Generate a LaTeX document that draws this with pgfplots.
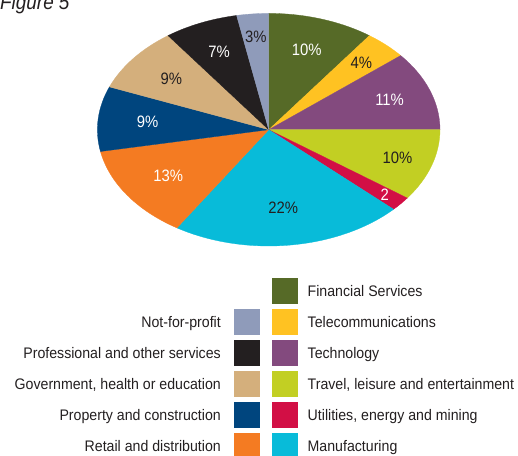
\documentclass[border=0pt]{standalone}
\usepackage{pgfplots}
\pgfplotsset{compat=1.18}
\usepackage{fontspec}
\setmainfont{Liberation Sans}
\newfontfamily\condfont[FakeStretch=0.9]{Liberation Sans}
\newfontfamily\legcondfont[FakeStretch=0.925]{Liberation Sans}

\definecolor{cFin}{HTML}{566A27}
\definecolor{cTel}{HTML}{FFC222}
\definecolor{cTech}{HTML}{834A7E}
\definecolor{cTrav}{HTML}{C2CF23}
\definecolor{cUtil}{HTML}{D20F45}
\definecolor{cManu}{HTML}{08BBD9}
\definecolor{cRet}{HTML}{F47B22}
\definecolor{cProp}{HTML}{00457E}
\definecolor{cGov}{HTML}{D4AF7C}
\definecolor{cProf}{HTML}{231F20}
\definecolor{cNfp}{HTML}{8F9BBA}
\definecolor{txt}{HTML}{231F20}

\newcommand{\labfont}{\condfont\fontsize{16.5}{19}\selectfont}
\newcommand{\legfont}{\legcondfont\fontsize{15.3}{18}\selectfont}

% one wedge: start %, end %, fill colour, label, label radius, label colour
\newcommand{\slice}[6]{%
  \filldraw[fill=#3, draw=#3, line width=0.3pt] (axis cs:0,0)
    -- ++({90-3.6*#1}:171.3pt and 116.3pt)
    arc[start angle={90-3.6*#1}, end angle={90-3.6*#2}, x radius=171.3pt, y radius=116.3pt]
    -- cycle;
  \node[text=#6, font=\labfont, inner sep=0pt]
    at (axis cs:{#5*sin(1.8*(#1+#2))},{#5*cos(1.8*(#1+#2))}) {#4};
}

\begin{document}
\begin{tikzpicture}[x=1pt, y=1pt]
\path[use as bounding box] (0,0) rectangle (518,455);

\node[anchor=base west, inner sep=0pt, text=txt,
  font=\condfont\fontsize{21}{24}\selectfont\itshape] at (0,445) {Figure 5};

\begin{axis}[
    at={(268.7pt,325.3pt)}, anchor=center,
    hide axis, scale only axis, clip=false,
    width=342.6pt, height=232.6pt,
    xmin=-1, xmax=1, ymin=-1, ymax=1,
]
\slice{0}{10}{cFin}{10\%}{0.72}{white}
\slice{10}{14}{cTel}{4\%}{0.79}{txt}
\slice{14}{25}{cTech}{11\%}{0.75}{white}
\slice{25}{35}{cTrav}{10\%}{0.79}{txt}
\slice{35}{37}{cUtil}{2}{0.88}{white}
\slice{37}{59}{cManu}{22\%}{0.68}{txt}
\slice{59}{72}{cRet}{13\%}{0.71}{white}
\slice{72}{81}{cProp}{9\%}{0.71}{white}
\slice{81}{90}{cGov}{9\%}{0.72}{txt}
\slice{90}{97}{cProf}{7\%}{0.73}{white}
\slice{97}{100}{cNfp}{3\%}{0.80}{txt}
\end{axis}

% legend, right column
\foreach \i/\col/\lab in {0/cFin/Financial Services, 1/cTel/Telecommunications,
    2/cTech/Technology, 3/cTrav/{Travel, leisure and entertainment},
    4/cUtil/{Utilities, energy and mining}, 5/cManu/Manufacturing} {
  \pgfmathsetmacro{\c}{164.3-31*\i}
  \fill[\col] (272,\c-13) rectangle (298,\c+13);
  \node[anchor=base west, inner sep=0pt, text=txt, font=\legfont] at (307.5,\c-5.5) {\lab};
}
% legend, left column
\foreach \i/\col/\lab in {1/cNfp/Not-for-profit, 2/cProf/Professional and other services,
    3/cGov/{Government, health or education}, 4/cProp/Property and construction,
    5/cRet/Retail and distribution} {
  \pgfmathsetmacro{\c}{164.3-31*\i}
  \fill[\col] (234,\c-13) rectangle (260,\c+13);
  \node[anchor=base east, inner sep=0pt, text=txt, font=\legfont] at (221,\c-5.5) {\lab};
}
\end{tikzpicture}
\end{document}
